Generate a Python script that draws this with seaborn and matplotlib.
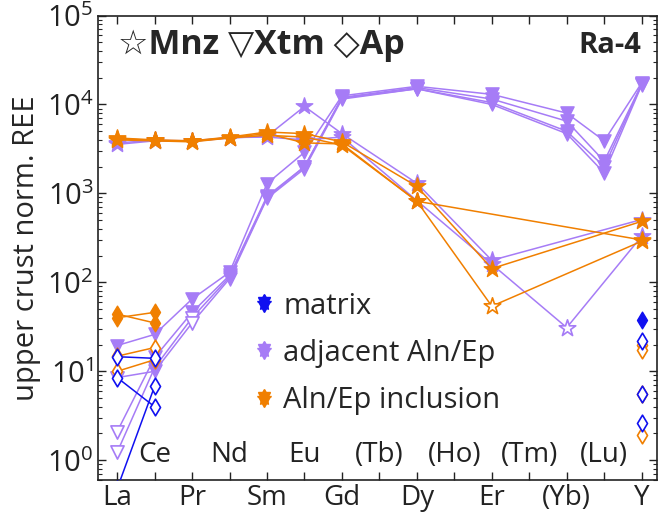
import numpy as np
import pandas as pd
import matplotlib
matplotlib.use("Agg")
import matplotlib.pyplot as plt
import seaborn as sns
from matplotlib.lines import Line2D
from matplotlib.legend_handler import HandlerTuple
import matplotlib.transforms as mtransforms

nan = np.nan

elements = ["La", "Ce", "Pr", "Nd", "Sm", "Eu", "Gd", "(Tb)", "Dy", "(Ho)",
            "Er", "(Tm)", "(Yb)", "(Lu)", "Y"]

# ---- Monazite (stars) ----
mnz_adj_1 = [3560, 3900, 3850, 4200, 4400, 9500, 4700, nan, 1300, nan, 177, nan, nan, nan, 509]
mnz_adj_2 = [3700, 3950, 3900, 4250, 4300, 4000, 4300, nan, 830, nan, 160, nan, 31, nan, 330]
mnz_inc_1 = [4200, 4000, 3900, 4300, 4900, 4700, 3800, nan, 1200, nan, 143, nan, nan, nan, 485]
mnz_inc_2 = [4100, 3950, 3850, 4250, 4700, 3700, 3600, nan, 817, nan, 54, nan, nan, nan, 290]
mnz_inc_3 = [4000, 3900, 3800, 4200, 4500, 4300, 3500, nan, 817, nan, nan, nan, nan, nan, 300]

# ---- Xenotime (down triangles) ----
xtm_adj_1 = [19.5, 26, 65, 130, 1290, 2900, 12500, nan, 16000, nan, 13000, nan, 8000, 3900, 17500]
xtm_adj_2 = [2.1, 14.3, 46, 120, 930, 2000, 12000, nan, 15500, nan, 11500, nan, 6500, 2300, 17000]
xtm_adj_3 = [1.23, 11, 40, 115, 900, 2000, 11800, nan, 15000, nan, 10500, nan, 5000, 2000, 16800]
xtm_adj_4 = [8.5, 10, 35, 110, 880, 1900, 11500, nan, 15000, nan, 10000, nan, 4700, 1700, 16500]

# ---- Apatite (diamonds): La, Ce and Y only ----
ap_mat_1 = [14.6, 14.0, 22]
ap_mat_2 = [8.5, 4.0, 5.5]
ap_mat_3 = [0.48, 6.8, 2.6]
ap_mat_4 = [nan, nan, 38]
ap_inc_1 = [44, 35, 5.5]
ap_inc_2 = [40, 46, 1.9]
ap_inc_3 = [14.8, 18.5, 20]
ap_inc_4 = [10, 13.5, 17.3]
ap_elements = ["La", "Ce", "Y"]

legend_labels = ["matrix", "adjacent Aln/Ep", "Aln/Ep inclusion"]

C_BLUE = "#1010f0"
C_PURP = "#a67cf6"
C_ORNG = "#f07f00"

sns.set_theme(style="ticks")
plt.rcParams["font.family"] = ["Open Sans", "DejaVu Sans"]
plt.rcParams["mathtext.fontset"] = "custom"
plt.rcParams["mathtext.rm"] = "Open Sans"
plt.rcParams["mathtext.it"] = "Open Sans:italic"
plt.rcParams["mathtext.bf"] = "Open Sans:bold"

fig = plt.figure(figsize=(6.6, 5.21), dpi=100)
ax = fig.add_axes([0.148, 0.0787, 0.8475, 0.8915])

pos = {e: i for i, e in enumerate(elements)}


def draw_series(vals, color, marker, ms, open_idx=(), names=elements, line=True, z=2):
    df = pd.DataFrame({"x": [pos[n] for n in names], "y": vals, "i": range(len(vals))}).dropna()
    if line:
        sns.lineplot(data=df, x="x", y="y", color=color, lw=1.1, sort=False,
                     estimator=None, ax=ax, zorder=z)
    filled = df[~df["i"].isin(open_idx)]
    hollow = df[df["i"].isin(open_idx)]
    if len(filled):
        sns.scatterplot(data=filled, x="x", y="y", marker=marker, s=ms ** 2, color=color,
                        edgecolor=color, linewidth=1.0, ax=ax, zorder=z + 0.5)
    if len(hollow):
        sns.scatterplot(data=hollow, x="x", y="y", marker=marker, s=ms ** 2, facecolor="white",
                        edgecolor=color, linewidth=1.2, ax=ax, zorder=z + 0.6)


# Xenotime
draw_series(xtm_adj_1, C_PURP, "v", 9.5)
draw_series(xtm_adj_2, C_PURP, "v", 9.5, open_idx=(0,))
draw_series(xtm_adj_3, C_PURP, "v", 9.5, open_idx=(0, 2))
draw_series(xtm_adj_4, C_PURP, "v", 9.5, open_idx=(0, 2))
# Monazite
draw_series(mnz_adj_1, C_PURP, "*", 12.5, z=3)
draw_series(mnz_adj_2, C_PURP, "*", 12.5, open_idx=(12,), z=3)
draw_series(mnz_inc_1, C_ORNG, "*", 12.5, z=4)
draw_series(mnz_inc_2, C_ORNG, "*", 12.5, open_idx=(10,), z=4)
draw_series(mnz_inc_3, C_ORNG, "*", 12.5, z=4)
# Apatite: La-Ce connected, Y alone
for vals, col, op in [(ap_inc_1, C_ORNG, (2,)), (ap_inc_2, C_ORNG, (2,)),
                      (ap_inc_3, C_ORNG, (0, 1, 2)), (ap_inc_4, C_ORNG, (0, 1, 2)),
                      (ap_mat_1, C_BLUE, (0, 1, 2)), (ap_mat_2, C_BLUE, (0, 1, 2)),
                      (ap_mat_3, C_BLUE, (0, 1, 2)), (ap_mat_4, C_BLUE, ())]:
    draw_series(vals[:2], col, "d", 8.5, open_idx=[i for i in op if i < 2],
                names=ap_elements[:2], z=5)
    draw_series(vals[2:], col, "d", 8.5, open_idx=[0] if 2 in op else [],
                names=ap_elements[2:], line=False, z=5)

ax.set_yscale("log")
ax.set_ylim(0.6, 1e5)
ax.set_xlim(-0.52, 14.41)
ax.set_xlabel("")
ax.set_ylabel("upper crust norm. REE", fontsize=21, labelpad=4)

ax.set_xticks(range(len(elements)))
ax.set_xticklabels([e if i % 2 == 0 else "" for i, e in enumerate(elements)], fontsize=20)
trans = mtransforms.blended_transform_factory(ax.transData, ax.transAxes)
for i, e in enumerate(elements):
    if i % 2 == 1:
        ax.text(i, 0.054, e, transform=trans, ha="center", va="center", fontsize=20, color="#222222")

ax.set_yticks([1e0, 1e1, 1e2, 1e3, 1e4, 1e5])
ax.set_yticklabels([r"$10^{%d}$" % k for k in range(6)], fontsize=21)
ax.tick_params(axis="both", which="major", direction="in", length=6, width=1,
               top=True, right=True, colors="#222222", labelcolor="#222222")
ax.tick_params(axis="y", which="minor", direction="in", length=3, width=0.8, right=True)
ax.tick_params(axis="x", pad=3)
ax.tick_params(axis="y", pad=3)
for s in ax.spines.values():
    s.set_linewidth(1.2)
    s.set_color("#222222")

ax.text(0.036, 0.936, "☆Mnz ▽Xtm ◇Ap", transform=ax.transAxes, fontsize=24.5,
        fontweight="bold", ha="left", va="center", family=["Open Sans", "DejaVu Sans"])
ax.text(0.972, 0.936, "Ra-4", transform=ax.transAxes, fontsize=21,
        fontweight="bold", ha="right", va="center")

handles = []
for col in [C_BLUE, C_PURP, C_ORNG]:
    h = tuple(Line2D([], [], ls="", marker=m, ms=s, color=col, mec=col)
              for m, s in [("*", 11), ("v", 9), ("d", 9)])
    handles.append(h)
ax.legend(handles, legend_labels, handler_map={tuple: HandlerTuple(ndivide=1, pad=0)},
          loc="center left", bbox_to_anchor=(0.272, 0.273), frameon=False,
          fontsize=21, handlelength=1.0, handletextpad=0.15, labelspacing=0.62,
          borderpad=0, borderaxespad=0)

fig.savefig("out.png", dpi=100)
